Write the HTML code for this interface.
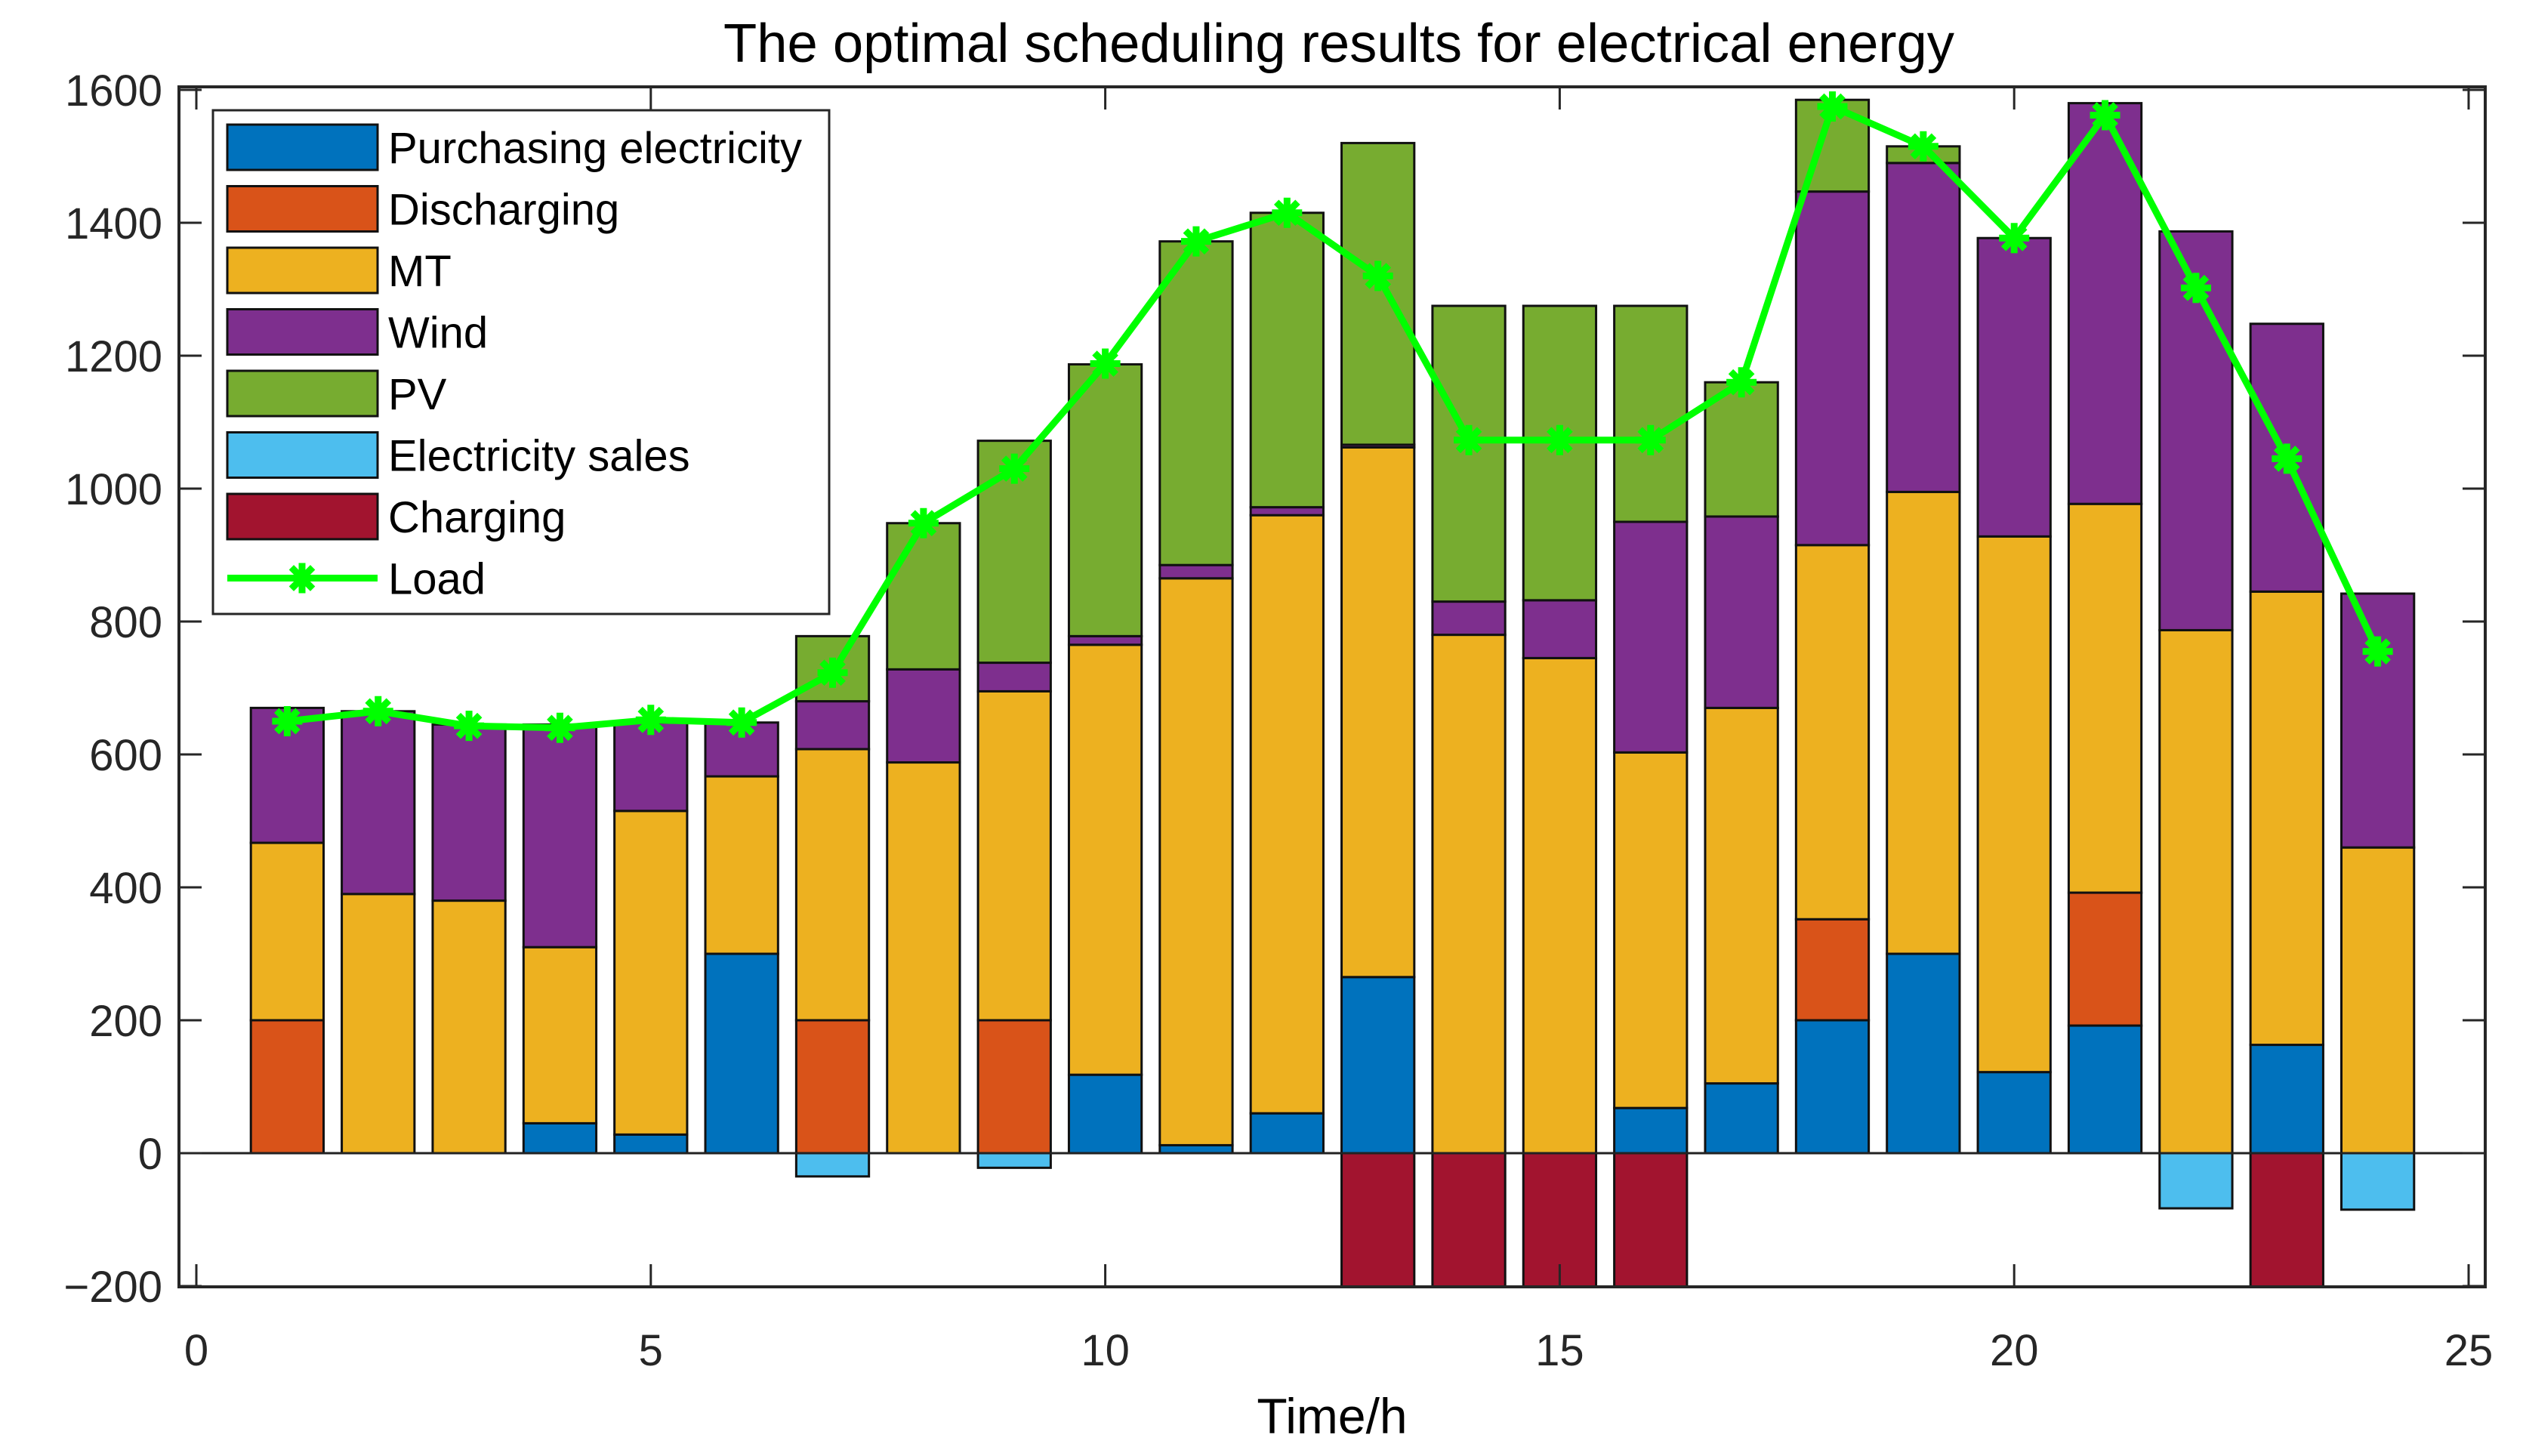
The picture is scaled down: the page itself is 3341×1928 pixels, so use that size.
<!DOCTYPE html>
<html><head><meta charset="utf-8"><style>
html,body{margin:0;padding:0;background:#fff}
svg{display:block;font-family:"Liberation Sans",Arial,sans-serif}
</style></head><body>
<svg id="chart" width="3341" height="1928" viewBox="0 0 3341 1928" xmlns="http://www.w3.org/2000/svg">
<defs><clipPath id="plotclip"><rect x="237" y="115" width="3054" height="1589"/></clipPath></defs>
<rect x="0" y="0" width="3341" height="1928" fill="#fff"/>
<text x="1773" y="82" font-size="72" text-anchor="middle" textLength="1630" lengthAdjust="spacingAndGlyphs">The optimal scheduling results for electrical energy</text>
<g id="bars" clip-path="url(#plotclip)"></g>
<g id="axes"></g>
<g id="line"></g>
<g id="legend"></g>
<text x="1764" y="1898" font-size="66" text-anchor="middle">Time/h</text>
</svg>
<script>
const hours = [1,2,3,4,5,6,7,8,9,10,11,12,13,14,15,16,17,18,19,20,21,22,23,24];
const purchase = [0,0,0,45,28,300,0,0,0,118,12,60,265,0,0,68,105,200,300,122,192,0,163,0];
const discharge = [200,0,0,0,0,0,200,0,200,0,0,0,0,0,0,0,0,152,0,0,200,0,0,0];
const mt = [267,390,380,265,487,267,408,588,495,647,853,900,797,780,745,535,565,563,695,806,585,787,682,460];
const wind = [203,275,265,335,133,81,72,140,43,13,20,12,4,50,87,347,288,532,495,449,603,600,403,382];
const pv = [0,0,0,0,0,0,98,220,334,409,487,443,454,445,443,325,202,138,25,0,0,0,0,0];
const sales = [0,0,0,0,0,0,-35,0,-22,0,0,0,0,0,0,0,0,0,0,0,0,-83,0,-85];
const charging = [0,0,0,0,0,0,0,0,0,0,0,0,-220,-220,-220,-220,0,0,0,0,0,0,-220,0];
const load = [650,665,643,640,652,648,723,948,1030,1188,1372,1415,1320,1073,1073,1073,1160,1575,1515,1377,1562,1302,1045,755];
const yTicks = [-200,0,200,400,600,800,1000,1200,1400,1600];
const xTicks = [0,5,10,15,20,25];

const NS="http://www.w3.org/2000/svg";
const X0=237,X1=3291,Y0=115,Y1=1704;
function xs(v){return 260+(v)*(3269-260)/25;}
function ys(v){return 1527-v*(1527-1703)/-200;}
function mk(tag,attrs,parent){const e=document.createElementNS(NS,tag);for(const k in attrs)e.setAttribute(k,attrs[k]);parent.appendChild(e);return e;}
const bars=document.getElementById('bars'),axes=document.getElementById('axes'),lineG=document.getElementById('line'),leg=document.getElementById('legend');
const series=[['purchase',purchase,'#0072BD'],['discharge',discharge,'#D95319'],['mt',mt,'#EDB120'],['wind',wind,'#7E2F8E'],['pv',pv,'#77AC30']];
const negSeries=[['sales',sales,'#4DBEEE'],['charging',charging,'#A2142F']];
const bw=0.8*(xs(1)-xs(0));
hours.forEach((h,i)=>{
  let base=0;
  series.forEach(s=>{
    const v=s[1][i]; if(v<=0) return;
    const r=mk('rect',{x:xs(h)-bw/2,y:ys(base+v),width:bw,height:ys(base)-ys(base+v),fill:s[2],stroke:'#111','stroke-width':3},bars);
    
    
    base+=v;
  });
  let nb=0;
  negSeries.forEach(s=>{
    const v=s[1][i]; if(v>=0) return;
    const r=mk('rect',{x:xs(h)-bw/2,y:ys(nb),width:bw,height:ys(nb+v)-ys(nb),fill:s[2],stroke:'#111','stroke-width':3},bars);
    
    
    nb+=v;
  });
});
const zl=mk('line',{x1:X0,x2:X1,y1:ys(0),y2:ys(0),stroke:'#222','stroke-width':3},axes);


const box=mk('rect',{x:X0,y:Y0,width:X1-X0,height:Y1-Y0,fill:'none',stroke:'#262626','stroke-width':4},axes);


yTicks.forEach(t=>{
  const y=ys(t);
  mk('line',{x1:X0,x2:X0+30,y1:y,y2:y,stroke:'#262626','stroke-width':3},axes);
  mk('line',{x1:X1,x2:X1-30,y1:y,y2:y,stroke:'#262626','stroke-width':3},axes);
  const tx=mk('text',{x:X0-22,y:y+21,'font-size':58,'text-anchor':'end',fill:'#262626'},axes);
  tx.textContent=(t<0?'\u2212':'')+Math.abs(t);
  
  
});
xTicks.forEach(t=>{
  const x=xs(t);
  mk('line',{x1:x,x2:x,y1:Y1,y2:Y1-30,stroke:'#262626','stroke-width':3},axes);
  mk('line',{x1:x,x2:x,y1:Y0,y2:Y0+30,stroke:'#262626','stroke-width':3},axes);
  const tx=mk('text',{x:x,y:1808,'font-size':58,'text-anchor':'middle',fill:'#262626'},axes);
  tx.textContent=t;
  
  
});
function star(x,y,g,r){
  for(let k=0;k<4;k++){const a=k*Math.PI/4;mk('line',{x1:x-r*Math.cos(a),y1:y-r*Math.sin(a),x2:x+r*Math.cos(a),y2:y+r*Math.sin(a),stroke:'#00FF00','stroke-width':9},g);}
}
const pts=hours.map((h,i)=>xs(h)+','+ys(load[i])).join(' ');
const pl=mk('polyline',{points:pts,fill:'none',stroke:'#00FF00','stroke-width':9,'stroke-linejoin':'round'},lineG);


hours.forEach((h,i)=>star(xs(h),ys(load[i]),lineG,20));
const lb=mk('rect',{x:282,y:146,width:816,height:667,fill:'#fff',stroke:'#262626','stroke-width':3},leg);


const legNames=['Purchasing electricity','Discharging','MT','Wind','PV','Electricity sales','Charging','Load'];
const legColors=['#0072BD','#D95319','#EDB120','#7E2F8E','#77AC30','#4DBEEE','#A2142F',null];
legNames.forEach((n,i)=>{
  const y=165+i*81.5;
  const g=mk('g',{},leg);
  
  
  if(legColors[i]) mk('rect',{x:301,y:y,width:199,height:60,fill:legColors[i],stroke:'#111','stroke-width':3},g);
  else {mk('line',{x1:301,x2:500,y1:y+30,y2:y+30,stroke:'#00FF00','stroke-width':9},g);star(400,y+30,g,20);}
  const t=mk('text',{x:514,y:y+51,'font-size':58,fill:'#000'},g);
  t.textContent=n;
});
</script>
</body></html>
